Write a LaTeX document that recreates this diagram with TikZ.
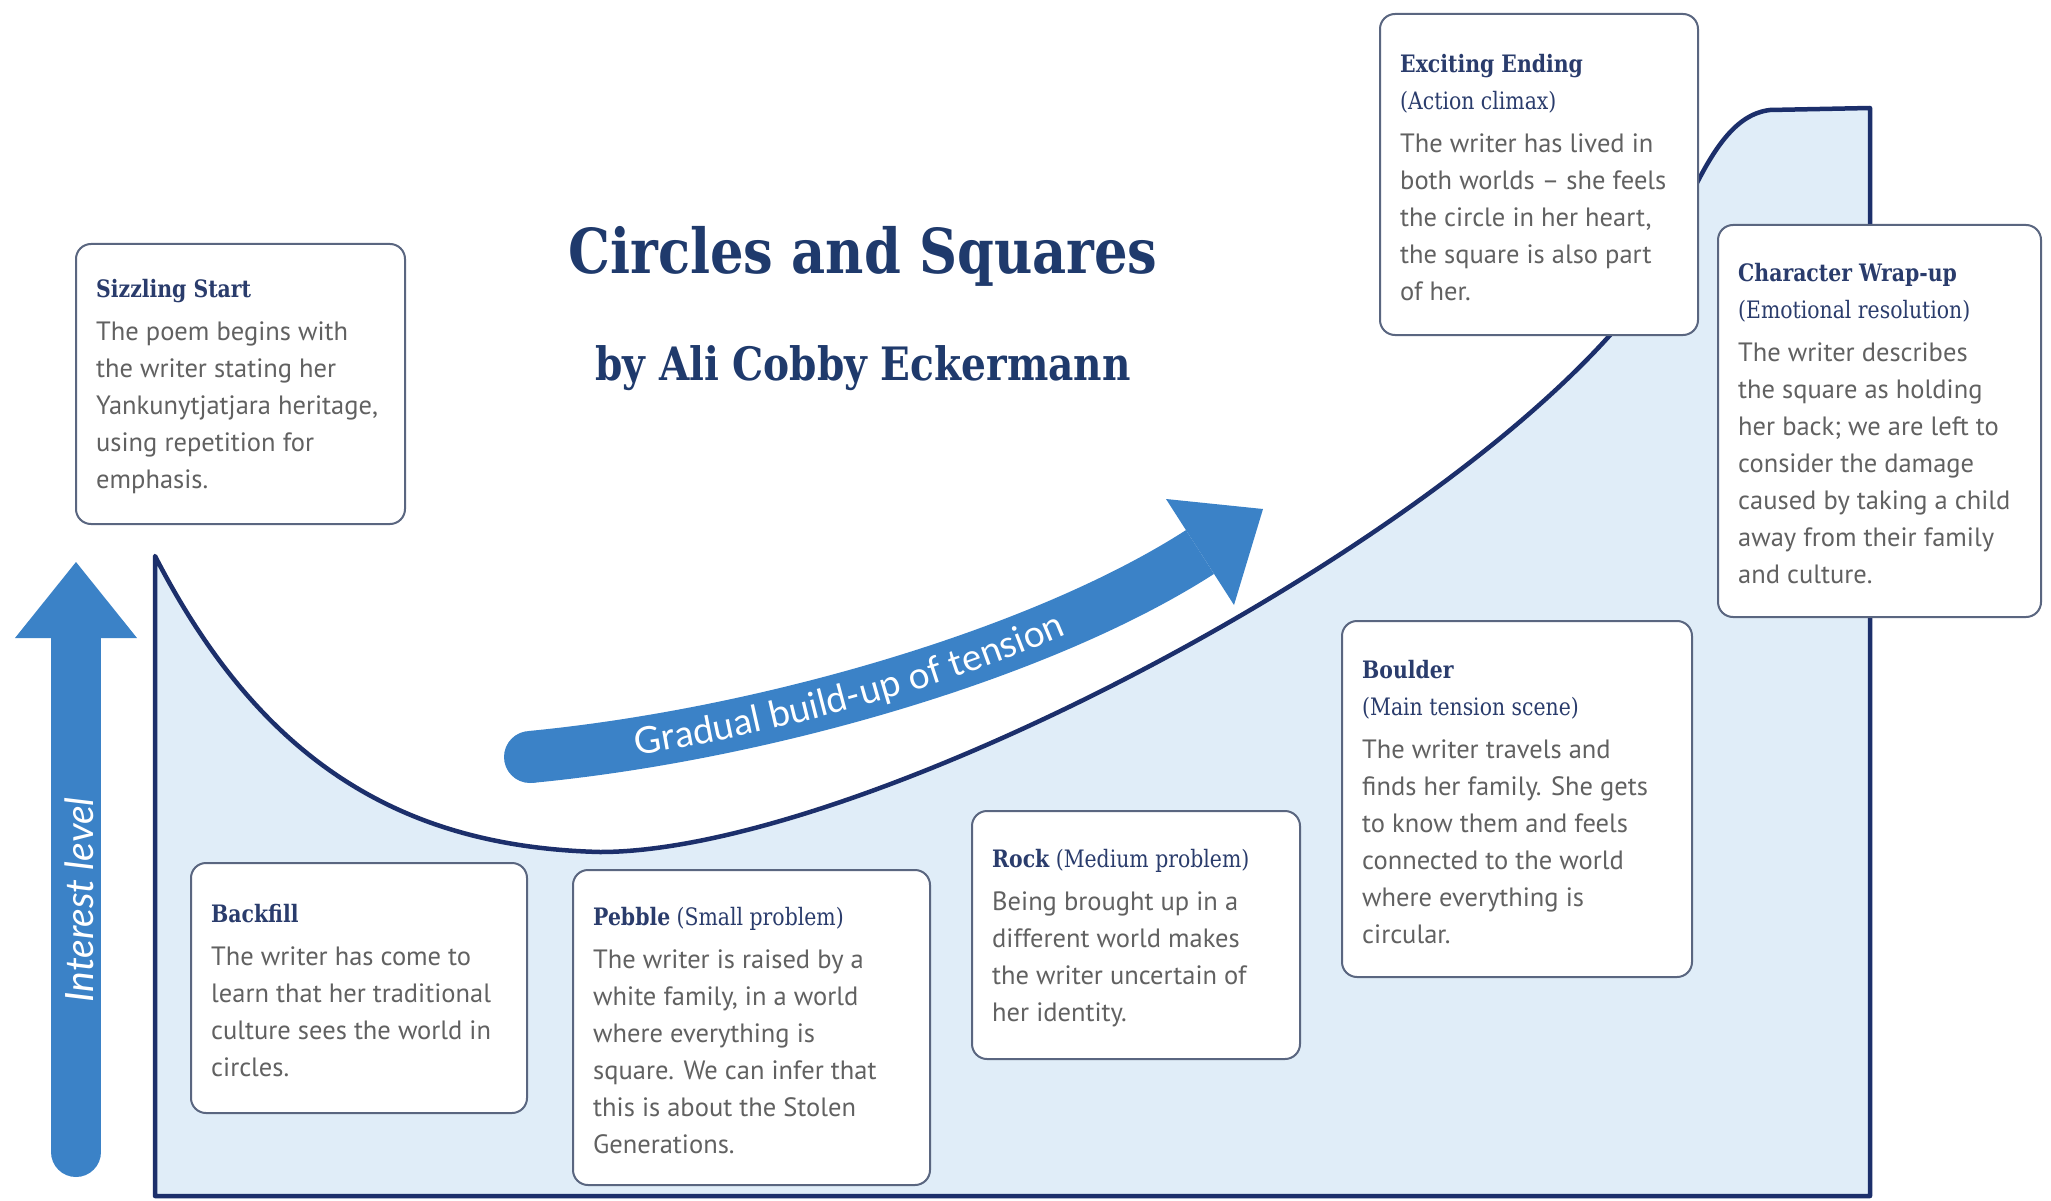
\documentclass[tikz,border=0pt]{standalone}
\usepackage{fontspec}
\usetikzlibrary{decorations.text}
\newfontfamily\slab{DejaVu Serif}[FakeStretch=0.85]
\newfontfamily\bodyfont{PT Sans}
\newfontfamily\labfont{Lato}
\definecolor{areafill}{HTML}{E0EDF8}
\definecolor{curvenavy}{HTML}{1C2F6B}
\definecolor{arrowblue}{HTML}{3B82C7}
\definecolor{cardline}{HTML}{5A6680}
\definecolor{headnavy}{HTML}{2A3C6C}
\definecolor{bodygray}{HTML}{616161}
\definecolor{titlenavy}{HTML}{1F3A6C}
\newcommand\cardhead{\slab\bfseries\fontsize{24}{37}\selectfont\color{headnavy}}
\newcommand\cardsub{\slab\mdseries\fontsize{24}{37}\selectfont\color{headnavy}}
\begin{document}
\begin{tikzpicture}[x=1pt,y=-1pt,
  card/.style={draw=cardline, line width=2pt, fill=white, rounded corners=15pt,
    anchor=north west, inner sep=0pt},
  cardtext/.style={anchor=west, align=left, inner sep=0pt, text=bodygray,
    font=\bodyfont\fontsize{26.5}{37}\selectfont},
  outline/.style={draw=curvenavy, line width=4.5pt, line join=round},
  bluearrow/.style={draw=arrowblue, line width=#1},
]
\useasboundingbox (0,0) rectangle (2051,1201);
\fill[white] (0,0) rectangle (2051,1201);

% story arc coordinates
\coordinate (c0) at (155,556);
\coordinate (cmin) at (600,852);
\coordinate (crise) at (1611,334);
\coordinate (ctop) at (1770,110);
\coordinate (ccorner) at (1870,108);
\coordinate (cbr) at (1870,1196);
\coordinate (cbl) at (155,1196);

% shaded area under the story arc
\fill[areafill] (c0) .. controls (260,760) and (400,847) .. (cmin)
  .. controls (850,852) and (1400,570) .. (crise)
  .. controls (1681,256) and (1700,118) .. (ctop)
  -- (ccorner) -- (cbr) -- (cbl) -- cycle;
\draw[outline] (cbl) -- (c0) .. controls (260,760) and (400,847) .. (cmin)
  .. controls (850,852) and (1400,570) .. (crise)
  .. controls (1681,256) and (1700,118) .. (ctop)
  -- (ccorner) -- (cbr) -- cycle;

% vertical interest arrow
\coordinate (ia-bot) at (76,1152);
\coordinate (ia-base) at (76,636);
\coordinate (ia-tip) at (76,562);
\draw[bluearrow=50pt, line cap=round] (ia-bot) -- (ia-base);
\fill[arrowblue] (15,638) -- (ia-tip) -- (137,638) -- cycle;
\node[rotate=90, text=white, font=\labfont\itshape\fontsize{39}{44}\selectfont]
  (il) at (79,900) {Interest level};

% curved tension arrow
\coordinate (ga-s) at (530,757);
\coordinate (ga-e) at (1200,552);
\fill[arrowblue] (ga-s) circle[radius=26pt];
\draw[bluearrow=52pt] (ga-s) .. controls (760,735) and (1040,655) .. (ga-e);
\fill[arrowblue] (1166,499) -- (1263,509) -- (1234,605) -- cycle;
\path[decorate, decoration={text along path,
    text={|\labfont\fontsize{37}{42}\selectfont\color{white}|Gradual build-up of tension},
    text align={center, right indent=50pt}, raise=-12pt}]
  (ga-s) .. controls (760,735) and (1040,655) .. (ga-e);

% title
\node[font=\slab\bfseries\fontsize{62}{70}\selectfont, text=titlenavy]
  (title) at (863,256) {Circles and Squares};
\node[font=\slab\bfseries\fontsize{46}{52}\selectfont, text=titlenavy]
  (byline) at (863,368) {by Ali Cobby Eckermann};

% story stage cards
\node[card, minimum width=329pt, minimum height=280pt] (ss) at (75,243) {};
\node[cardtext] (ss-t) at ([xshift=21pt,yshift=-3pt]ss.west)
  {{\cardhead Sizzling Start}\\[6pt]
   The poem begins with\\ the writer stating her\\ Yankunytjatjara heritage,\\
   using repetition for\\ emphasis.};

\node[card, minimum width=318pt, minimum height=321pt] (ee) at (1379,13) {};
\node[cardtext] (ee-t) at ([xshift=21pt,yshift=-3pt]ee.west)
  {{\cardhead Exciting Ending}\\ {\cardsub (Action climax)}\\[6pt]
   The writer has lived in\\ both worlds – she feels\\ the circle in her heart,\\
   the square is also part\\ of her.};

\node[card, minimum width=323pt, minimum height=392pt] (cw) at (1717,224) {};
\node[cardtext] (cw-t) at ([xshift=21pt,yshift=-3pt]cw.west)
  {{\cardhead Character Wrap-up}\\ {\cardsub (Emotional resolution)}\\[6pt]
   The writer describes\\ the square as holding\\ her back; we are left to\\
   consider the damage\\ caused by taking a child\\ away from their family\\ and culture.};

\node[card, minimum width=336pt, minimum height=250pt] (bf) at (190,862) {};
\node[cardtext] (bf-t) at ([xshift=21pt,yshift=-3pt]bf.west)
  {{\cardhead Backfill}\\[6pt]
   The writer has come to\\ learn that her traditional\\ culture sees the world in\\ circles.};

\node[card, minimum width=357pt, minimum height=315pt] (pb) at (572,869) {};
\node[cardtext] (pb-t) at ([xshift=21pt,yshift=-3pt]pb.west)
  {{\cardhead Pebble}{\cardsub\ (Small problem)}\\[6pt]
   The writer is raised by a\\ white family, in a world\\ where everything is\\
   square. We can infer that\\ this is about the Stolen\\ Generations.};

\node[card, minimum width=328pt, minimum height=248pt] (rk) at (971,810) {};
\node[cardtext] (rk-t) at ([xshift=21pt,yshift=-3pt]rk.west)
  {{\cardhead Rock}{\cardsub\ (Medium problem)}\\[6pt]
   Being brought up in a\\ different world makes\\ the writer uncertain of\\ her identity.};

\node[card, minimum width=350pt, minimum height=356pt] (bd) at (1341,620) {};
\node[cardtext] (bd-t) at ([xshift=21pt,yshift=-3pt]bd.west)
  {{\cardhead Boulder}\\ {\cardsub (Main tension scene)}\\[6pt]
   The writer travels and\\ finds her family. She gets\\ to know them and feels\\
   connected to the world\\ where everything is\\ circular.};
\end{tikzpicture}
\end{document}
